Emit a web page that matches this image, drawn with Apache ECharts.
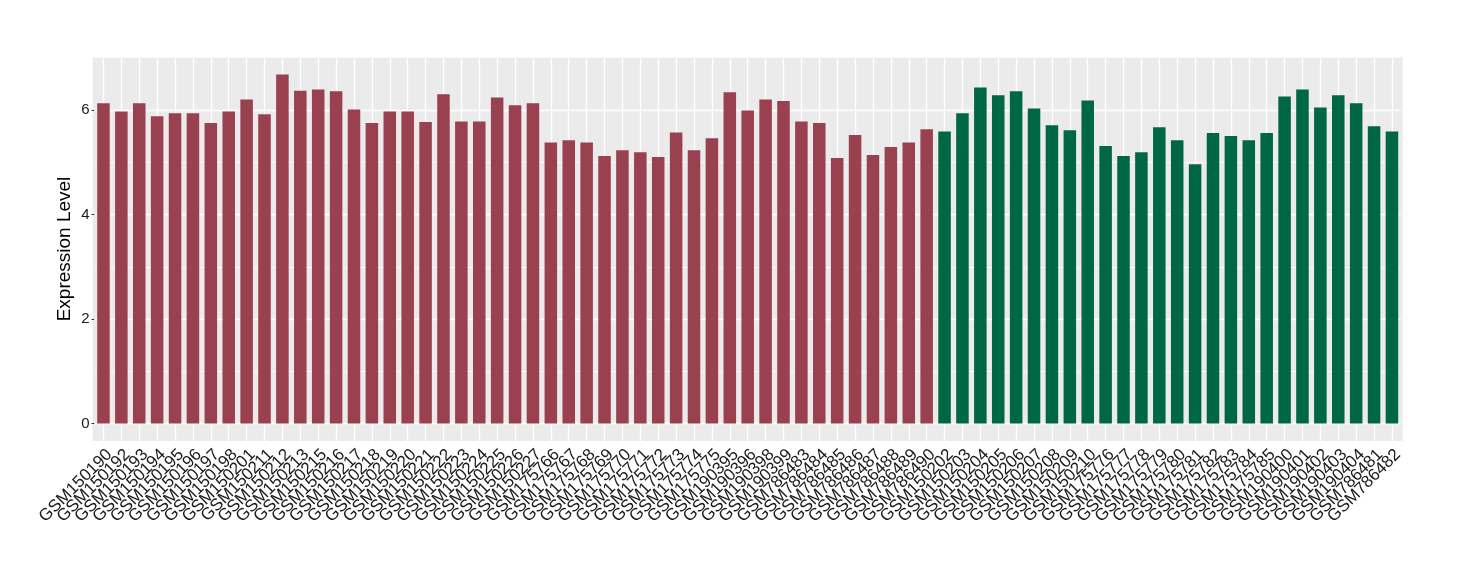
<!DOCTYPE html>
<html>
<head>
<meta charset="utf-8">
<script src="https://cdn.jsdelivr.net/npm/echarts@6/dist/echarts.min.js"></script>
<style>html,body{margin:0;padding:0;background:#fff}#c{width:1460px;height:580px}</style>
</head>
<body>
<div id="c"></div>
<script>
const categories = ["GSM150190","GSM150192","GSM150193","GSM150194","GSM150195","GSM150196","GSM150197","GSM150198","GSM150201","GSM150211","GSM150212","GSM150213","GSM150215","GSM150216","GSM150217","GSM150218","GSM150219","GSM150220","GSM150221","GSM150222","GSM150223","GSM150224","GSM150225","GSM150226","GSM150227","GSM175766","GSM175767","GSM175768","GSM175769","GSM175770","GSM175771","GSM175772","GSM175773","GSM175774","GSM175775","GSM190395","GSM190396","GSM190398","GSM190399","GSM786483","GSM786484","GSM786485","GSM786486","GSM786487","GSM786488","GSM786489","GSM786490","GSM150202","GSM150203","GSM150204","GSM150205","GSM150206","GSM150207","GSM150208","GSM150209","GSM150210","GSM175776","GSM175777","GSM175778","GSM175779","GSM175780","GSM175781","GSM175782","GSM175783","GSM175784","GSM175785","GSM190400","GSM190401","GSM190402","GSM190403","GSM190404","GSM786481","GSM786482"];
const values = [6.13,5.97,6.13,5.88,5.94,5.94,5.75,5.97,6.20,5.92,6.68,6.37,6.39,6.36,6.01,5.75,5.97,5.97,5.77,6.30,5.78,5.78,6.24,6.09,6.13,5.38,5.42,5.38,5.12,5.23,5.19,5.10,5.57,5.23,5.46,6.34,5.99,6.20,6.17,5.78,5.75,5.08,5.52,5.14,5.29,5.38,5.63,5.59,5.94,6.43,6.28,6.36,6.03,5.71,5.61,6.18,5.31,5.12,5.19,5.67,5.42,4.96,5.56,5.50,5.42,5.56,6.26,6.39,6.05,6.28,6.13,5.69,5.59];
const groups = [].concat(Array(47).fill("A"), Array(26).fill("B"));
const groupColors = { A: "#9A4150", B: "#006743" };
const yMajor = [0, 2, 4, 6];
const yMinor = [1, 3, 5, 7];

const maxV = Math.max(...values);
const yMin = -0.05 * maxV, yMax = maxV * 1.05;

const gridLines = [];
categories.forEach((c) => gridLines.push({ xAxis: c, lineStyle: { color: "#fff", width: 1.3, type: "solid" } }));
yMajor.forEach((v) => gridLines.push({ yAxis: v, lineStyle: { color: "#fff", width: 1.3, type: "solid" } }));
yMinor.forEach((v) => gridLines.push({ yAxis: v, lineStyle: { color: "#fff", width: 0.7, type: "solid" } }));

const chart = echarts.init(document.getElementById("c"), null, { renderer: "canvas" });
chart.setOption({
  animation: false,
  backgroundColor: "#fff",
  textStyle: { fontFamily: "Liberation Sans, Arial, sans-serif" },
  graphic: [{
    type: "rect", z: -10, silent: true,
    shape: { x: 92.7, y: 57, width: 1310, height: 384 },
    style: { fill: "#EBEBEB" }
  }],
  grid: { left: 94.5, right: 59.1, top: 57, bottom: 139, containLabel: false },
  xAxis: {
    type: "category",
    data: categories,
    boundaryGap: true,
    axisLine: { show: false },
    axisTick: { show: true, alignWithLabel: true, length: 3, lineStyle: { color: "#333", width: 1 } },
    axisLabel: { rotate: 45, interval: 0, fontSize: 17, color: "#1a1a1a", margin: 5, verticalAlign: "top", fontFamily: "Liberation Sans, Arial, sans-serif" },
    splitLine: { show: false }
  },
  yAxis: {
    type: "value",
    min: yMin, max: yMax,
    name: "Expression Level",
    nameLocation: "middle",
    nameGap: 20,
    nameMoveOverlap: false,
    nameTextStyle: { fontSize: 19, color: "#000", fontFamily: "Liberation Sans, Arial, sans-serif" },
    axisLine: { show: false },
    axisTick: { show: true, length: 3, customValues: yMajor, lineStyle: { color: "#333" } },
    axisLabel: { fontSize: 15, color: "#1a1a1a", margin: 5, customValues: yMajor, formatter: (v) => String(v) },
    splitLine: { show: false }
  },
  series: [
    {
      type: "line", z: 1, data: [], silent: true,
      markLine: { z: 1, silent: true, symbol: ["none", "none"], label: { show: false }, animation: false, data: gridLines }
    },
    {
      type: "bar", z: 3,
      barWidth: "70%",
      data: values.map((v, i) => ({ value: v, itemStyle: { color: groupColors[groups[i]] } }))
    }
  ]
});
</script>
</body>
</html>
